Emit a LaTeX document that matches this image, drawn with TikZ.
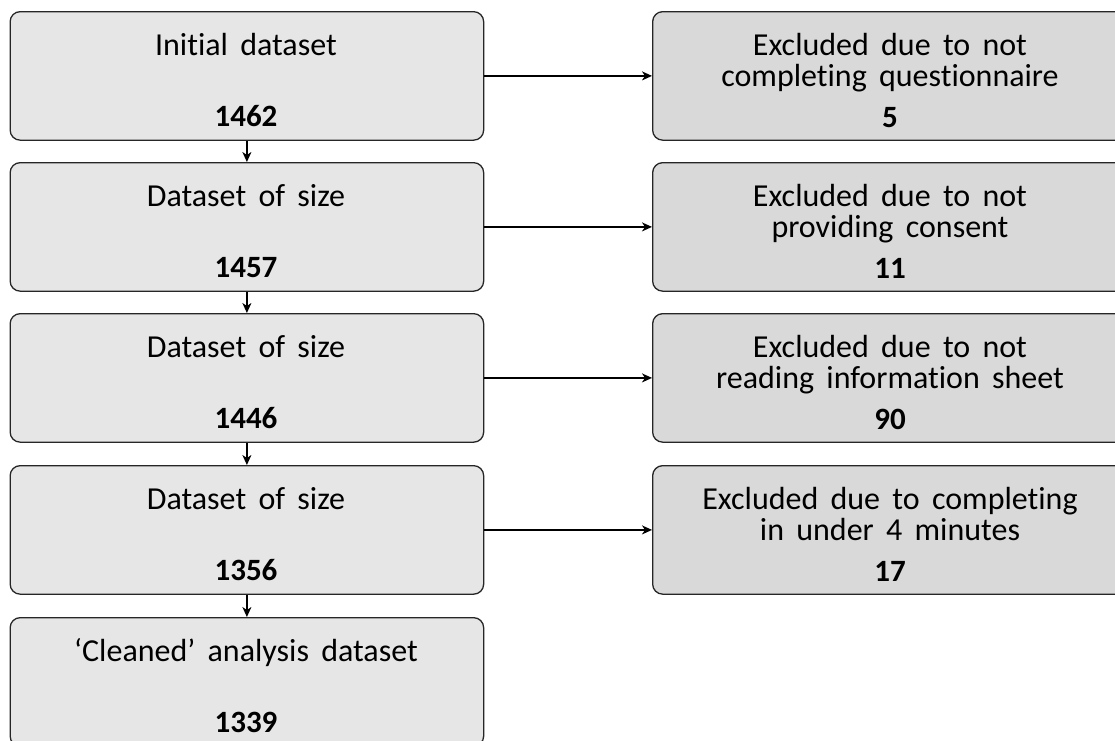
\documentclass[tikz,border=0pt]{standalone}
\usepackage{fontspec}
\setmainfont{Carlito}[WordSpace=1.7, Ligatures=NoCommon]
\usetikzlibrary{arrows.meta}
\definecolor{leftgrey}{HTML}{E6E6E6}
\definecolor{rightgrey}{HTML}{D9D9D9}
\definecolor{edge}{HTML}{262626}
\begin{document}
\begin{tikzpicture}[x=1pt,y=-1pt,
  font=\fontsize{32}{38}\selectfont,
  box/.style={draw=edge, line width=1.3pt, rounded corners=10pt, inner sep=0pt, anchor=north west, minimum height=128.5pt},
  lbox/.style={box, fill=leftgrey, minimum width=473.5pt},
  rbox/.style={box, fill=rightgrey, minimum width=476pt},
  txt/.style={anchor=base, inner sep=0pt, text=black},
  num/.style={txt, font=\fontsize{31}{37}\selectfont\bfseries},
  arr/.style={line width=1.4pt, draw=black, -{Stealth[length=10pt,width=9pt,inset=3pt]}}
]
\useasboundingbox (0,0) rectangle (1115,740);
\clip (0,0) rectangle (1115,740);

% left boxes
\node[lbox] (L1) at (9.5,11) {};
\node[lbox] (L2) at (9.5,162) {};
\node[lbox] (L3) at (9.5,313) {};
\node[lbox] (L4) at (9.5,465) {};
\node[lbox] (L5) at (9.5,617) {};

% right boxes
\node[rbox] (R1) at (652,11) {};
\node[rbox] (R2) at (652,162) {};
\node[rbox] (R3) at (652,313) {};
\node[rbox] (R4) at (652,465) {};

% left texts
\node[txt] (L1a) at (246,55) {Initial dataset};
\node[num] (L1b) at (246,126) {1462};
\node[txt] (L2a) at (246,206) {Dataset of size};
\node[num] (L2b) at (246,277) {1457};
\node[txt] (L3a) at (246,357) {Dataset of size};
\node[num] (L3b) at (246,428) {1446};
\node[txt] (L4a) at (246,509) {Dataset of size};
\node[num] (L4b) at (246,580) {1356};
\node[txt] (L5a) at (246,661) {‘Cleaned’ analysis dataset};
\node[num] (L5b) at (246,732) {1339};

% right texts
\node[txt] (R1a) at (890,55) {Excluded due to not};
\node[txt] (R1b) at (890,86) {completing questionnaire};
\node[num] (R1c) at (890,127) {5};
\node[txt] (R2a) at (890,206) {Excluded due to not};
\node[txt] (R2b) at (890,237) {providing consent};
\node[num] (R2c) at (890,278) {11};
\node[txt] (R3a) at (890,357) {Excluded due to not};
\node[txt] (R3b) at (890,388) {reading information sheet};
\node[num] (R3c) at (890,429) {90};
\node[txt] (R4a) at (890,509) {Excluded due to completing};
\node[txt] (R4b) at (890,540) {in under 4 minutes};
\node[num] (R4c) at (890,581) {17};

% vertical arrows
\draw[arr] (L1.south) -- (L2.north);
\draw[arr] (L2.south) -- (L3.north);
\draw[arr] (L3.south) -- (L4.north);
\draw[arr] (L4.south) -- (L5.north);

% horizontal arrows
\draw[arr] (L1.east) -- (R1.west);
\draw[arr] (L2.east) -- (R2.west);
\draw[arr] (L3.east) -- (R3.west);
\draw[arr] (L4.east) -- (R4.west);
\end{tikzpicture}
\end{document}
